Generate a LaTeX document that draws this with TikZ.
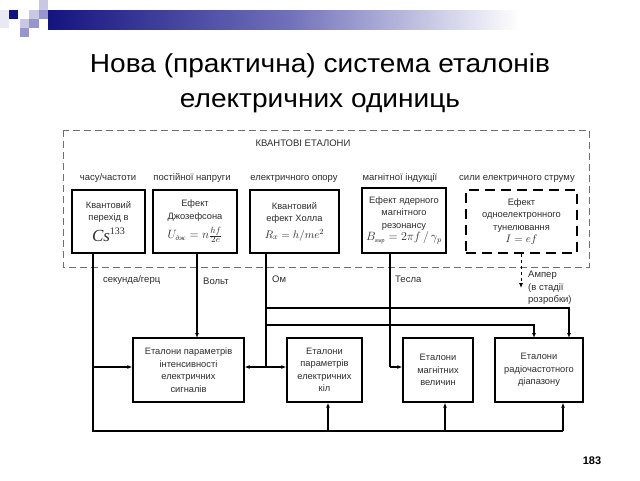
\documentclass[tikz,border=0pt]{standalone}
\usepackage{fontspec}
\setmainfont{Liberation Sans}
\newfontfamily\serif{Liberation Serif}
\newfontfamily\titlefont[FakeStretch=1.08]{Liberation Sans}
\usetikzlibrary{arrows.meta}
\definecolor{navy}{RGB}{20,20,128}
\definecolor{midblue}{RGB}{110,110,185}
\definecolor{lav}{RGB}{200,200,228}
\definecolor{lavmid}{RGB}{150,150,205}
\definecolor{txt}{RGB}{45,45,45}
\definecolor{dashgray}{RGB}{110,110,110}
\tikzset{
  qbox/.style={draw=black, line width=2.6pt, inner sep=0pt, align=center, text=txt,
    font=\fontsize{9.3}{12.5}\selectfont},
  ebox/.style={draw=black, line width=1.3pt, inner sep=0pt, align=center, text=txt,
    font=\fontsize{9.3}{12.5}\selectfont, minimum height=64pt},
  qdash/.style={qbox, dash pattern=on 10pt off 6pt},
  lbl/.style={inner sep=0pt, text=txt, font=\fontsize{9.5}{12}\selectfont},
  line/.style={draw=black, line width=1.1pt},
  arr/.style={line, -{Latex[length=5pt,width=4pt]}},
  darr/.style={draw=black, line width=0.9pt, dashed, -{Latex[length=5pt,width=4pt]}},
}
\begin{document}
\begin{tikzpicture}[x=1pt,y=-1pt]
\useasboundingbox (0,0) rectangle (640,480);
\fill[white] (0,0) rectangle (640,480);
% header decoration
\fill[lav!40] (0,10) rectangle (9,28);
\fill[navy] (9,10) rectangle (18,19);
\fill[lav] (39,0) rectangle (48,10);
\fill[lav] (29,10) rectangle (39,19);
\fill[lavmid] (39,10) rectangle (48,19);
\fill[lav] (20,19) rectangle (29,28);
\fill[lavmid] (29,19) rectangle (39,28);
\fill[lavmid] (20,28) rectangle (29,37);
\shade[left color=navy, right color=white, middle color=midblue] (48,10) rectangle (520,29);
% title
\node[font=\titlefont\fontsize{26}{35}\selectfont, align=center, anchor=base] (title) at (320,107)
  {Нова (практична) система еталонів\\електричних одиниць};
% outer dashed frame
\draw[dashgray, line width=0.8pt, dash pattern=on 7pt off 4pt] (63,130) rectangle (589,267);
\node[lbl, anchor=base] (qt) at (303,146.5) {КВАНТОВІ ЕТАЛОНИ};
% category labels
\node[lbl, anchor=base] (c1) at (108,180.5) {часу/частоти};
\node[lbl, anchor=base] (c2) at (192,180.5) {постійної напруги};
\node[lbl, anchor=base] (c3) at (294,180.5) {електричного опору};
\node[lbl, anchor=base] (c4) at (400,180.5) {магнітної індукції};
\node[lbl, anchor=base] (c5) at (517,180.5) {сили електричного струму};
% quantum boxes
\node[qbox, minimum width=73pt, minimum height=63pt] (b1) at (108.5,221.5)
  {Квантовий\\перехід в\\[4pt]{\serif\itshape\fontsize{17}{17}\selectfont Cs}\raisebox{7pt}{\serif\fontsize{10}{10}\selectfont 133}};
\node[qbox, minimum width=84pt, minimum height=63pt] (b2) at (195,221.5)
  {Ефект\\Джозефсона\\[5pt]{\fontsize{13}{13}\selectfont $U_{\mbox{\serif\itshape\fontsize{7}{7}\selectfont дж}} = n\frac{hf}{2e}$}};
\node[qbox, minimum width=89pt, minimum height=63pt] (b3) at (294.5,221.5)
  {Квантовий\\ефект Холла\\[4pt]{\fontsize{11}{11}\selectfont $R_x = h/me^2$}};
\node[qbox, minimum width=84pt, minimum height=65pt] (b4) at (404,220.5)
  {Ефект ядерного\\магнітного\\резонансу\\[0pt]{\fontsize{11.5}{11.5}\selectfont $B_{\mbox{\serif\itshape\fontsize{6}{6}\selectfont ямр}} = 2\pi f\,/\,\gamma_p$}};
\node[qdash, minimum width=111pt, minimum height=63pt] (b5) at (521.5,221.5)
  {Ефект\\одноелектронного\\тунелювання\\{\fontsize{11}{11}\selectfont $I = ef$}};
% lower boxes
\node[ebox, minimum width=111pt] (A) at (188.5,370) {Еталони параметрів\\інтенсивності\\електричних\\сигналів};
\node[ebox, minimum width=75pt] (B) at (324.5,370) {Еталони\\параметрів\\електричних\\кіл};
\node[ebox, minimum width=70pt] (C) at (438,370) {Еталони\\магнітних\\величин};
\node[ebox, minimum width=88pt] (D) at (539,370) {Еталони\\радіочастотного\\діапазону};
% unit labels
\node[lbl, anchor=base west] (l1) at (103,282) {секунда/герц};
\node[lbl, anchor=base west] (l2) at (203,284.5) {Вольт};
\node[lbl, anchor=base west] (l3) at (272,282) {Ом};
\node[lbl, anchor=base west] (l4) at (395,282) {Тесла};
\node[lbl, anchor=north west, align=left, font=\fontsize{9.5}{12.5}\selectfont] (l5) at (528,271) {Ампер\\(в стадії\\розробки)};
% junction coordinates
\coordinate (j1) at (93,431);
\coordinate (jA) at (93,367);
\coordinate (kB) at (328,431);
\coordinate (kC) at (445,431);
\coordinate (kD) at (563,431);
\coordinate (v2) at (197,338);
\coordinate (j3) at (266,367);
\coordinate (t1) at (266,308);
\coordinate (t2) at (266,325);
\coordinate (d1) at (569,338);
\coordinate (d2) at (534,338);
\coordinate (j4) at (390,367);
\coordinate (am) at (521,288);
% connectors
\draw[line] (b1.south -| j1) -- (j1) -- (kD);
\draw[arr] (jA) -- (jA -| A.west);
\draw[arr] (kB) -- (kB |- B.south);
\draw[arr] (kC) -- (kC |- C.south);
\draw[arr] (kD) -- (kD |- D.south);
\draw[arr] (b2.south -| v2) -- (v2);
\draw[line] (b3.south -| j3) -- (j3);
\draw[arr] (j3) -- (j3 -| A.east);
\draw[arr] (j3) -- (j3 -| B.west);
\draw[arr] (t1) -| (d1);
\draw[arr] (t2) -| (d2);
\draw[line] (b4.south -| j4) -- (j4);
\draw[arr] (j4) -- (j4 -| C.west);
\draw[darr] (b5.south -| am) -- (am);
% page number
\node[font=\bfseries\fontsize{11}{11}\selectfont] (pg) at (592,461) {183};
\end{tikzpicture}
\end{document}
